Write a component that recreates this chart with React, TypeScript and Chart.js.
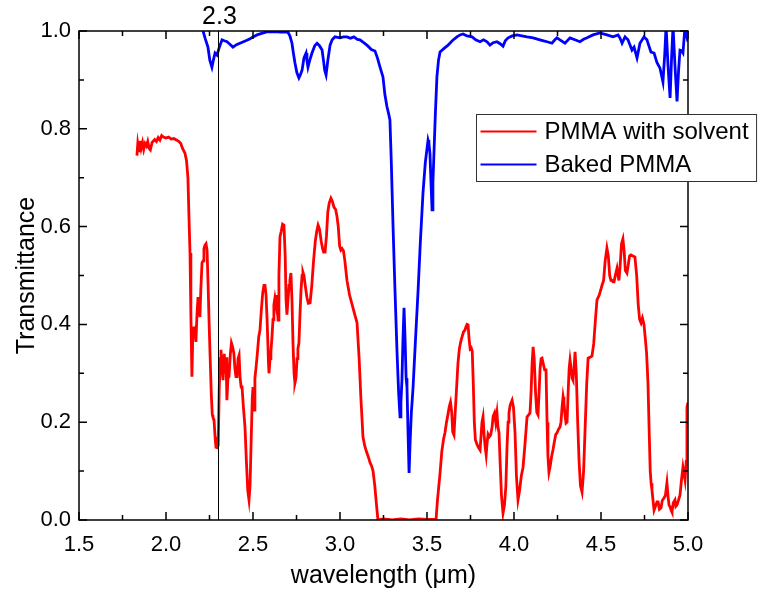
import React, { useEffect, useRef } from "react";
import { Chart, registerables } from "chart.js";

Chart.register(...registerables);

const seriesLabels = ["PMMA with solvent", "Baked PMMA"];
const seriesColors = ["#ff0000", "#0000ff"];
const xAxisTitle = "wavelength (μm)";
const yAxisTitle = "Transmittance";
const markerWavelength = 2.3;
const markerLabel = "2.3";

const redWavelength = [
  1.833, 1.838, 1.845, 1.85, 1.857, 1.865, 1.872, 1.88, 1.888, 1.895, 1.903, 1.91, 1.92, 1.935, 1.945, 1.955, 1.965, 1.975, 1.985, 2.0,
  2.015, 2.03, 2.045, 2.06, 2.075, 2.085, 2.095, 2.109, 2.118, 2.126, 2.132, 2.138, 2.143, 2.149, 2.155, 2.16, 2.166, 2.172, 2.178, 2.184,
  2.19, 2.195, 2.2, 2.207, 2.213, 2.218, 2.224, 2.23, 2.236, 2.242, 2.248, 2.253, 2.26, 2.266, 2.27, 2.276, 2.282, 2.287, 2.295, 2.3,
  2.306, 2.312, 2.316, 2.322, 2.328, 2.335, 2.34, 2.345, 2.35, 2.356, 2.362, 2.37, 2.376, 2.382, 2.39, 2.396, 2.402, 2.408, 2.414, 2.42,
  2.426, 2.432, 2.437, 2.445, 2.454, 2.462, 2.47, 2.477, 2.483, 2.49, 2.496, 2.5, 2.503, 2.506, 2.511, 2.517, 2.525, 2.533, 2.54, 2.548,
  2.556, 2.563, 2.569, 2.575, 2.582, 2.589, 2.592, 2.598, 2.603, 2.609, 2.615, 2.62, 2.626, 2.632, 2.638, 2.644, 2.649, 2.655, 2.662, 2.67,
  2.678, 2.685, 2.69, 2.695, 2.701, 2.707, 2.712, 2.718, 2.724, 2.73, 2.736, 2.741, 2.747, 2.753, 2.758, 2.764, 2.77, 2.776, 2.782, 2.787,
  2.793, 2.8, 2.81, 2.818, 2.828, 2.838, 2.848, 2.858, 2.866, 2.874, 2.882, 2.892, 2.9, 2.906, 2.914, 2.922, 2.93, 2.938, 2.948, 2.956,
  2.965, 2.975, 2.983, 2.99, 2.998, 3.005, 3.012, 3.02, 3.028, 3.04, 3.055, 3.07, 3.085, 3.098, 3.11, 3.12, 3.132, 3.142, 3.152, 3.162,
  3.172, 3.182, 3.19, 3.2, 3.21, 3.218, 3.25, 3.3, 3.35, 3.4, 3.45, 3.5, 3.552, 3.56, 3.575, 3.585, 3.595, 3.603, 3.612, 3.62,
  3.628, 3.635, 3.642, 3.648, 3.655, 3.662, 3.67, 3.678, 3.686, 3.694, 3.701, 3.71, 3.718, 3.724, 3.73, 3.736, 3.742, 3.748, 3.754, 3.76,
  3.766, 3.772, 3.778, 3.787, 3.796, 3.805, 3.816, 3.822, 3.828, 3.834, 3.84, 3.846, 3.851, 3.858, 3.866, 3.874, 3.88, 3.888, 3.895, 3.902,
  3.908, 3.914, 3.92, 3.928, 3.937, 3.945, 3.953, 3.96, 3.966, 3.971, 3.978, 3.989, 3.997, 4.006, 4.014, 4.023, 4.032, 4.042, 4.052, 4.062,
  4.075, 4.084, 4.092, 4.098, 4.104, 4.11, 4.116, 4.124, 4.131, 4.138, 4.144, 4.15, 4.156, 4.161, 4.168, 4.176, 4.184, 4.19, 4.195, 4.201,
  4.208, 4.216, 4.224, 4.232, 4.24, 4.247, 4.255, 4.264, 4.27, 4.276, 4.282, 4.287, 4.293, 4.299, 4.305, 4.311, 4.317, 4.322, 4.328, 4.334,
  4.339, 4.345, 4.351, 4.358, 4.366, 4.374, 4.382, 4.391, 4.4, 4.41, 4.418, 4.426, 4.437, 4.448, 4.458, 4.468, 4.477, 4.49, 4.506, 4.515,
  4.524, 4.534, 4.542, 4.55, 4.557, 4.563, 4.569, 4.575, 4.582, 4.592, 4.598, 4.603, 4.61, 4.618, 4.626, 4.633, 4.64, 4.649, 4.656, 4.664,
  4.672, 4.683, 4.695, 4.705, 4.714, 4.722, 4.73, 4.738, 4.747, 4.755, 4.762, 4.77, 4.777, 4.783, 4.788, 4.793, 4.799, 4.805, 4.815, 4.822,
  4.828, 4.836, 4.845, 4.852, 4.862, 4.87, 4.879, 4.885, 4.891, 4.897, 4.903, 4.908, 4.915, 4.925, 4.93, 4.937, 4.945, 4.954, 4.962, 4.971,
  4.977, 4.983, 4.99, 4.994, 5.0,
];
const redTransmittance = [
  0.745, 0.77, 0.755, 0.775, 0.76, 0.772, 0.758, 0.77, 0.765, 0.774, 0.76, 0.757, 0.772, 0.778, 0.774, 0.782, 0.777, 0.786, 0.783, 0.781,
  0.783, 0.779, 0.78, 0.777, 0.774, 0.77, 0.76, 0.75, 0.735, 0.7, 0.62, 0.546, 0.42, 0.293, 0.395, 0.385, 0.39, 0.364, 0.42, 0.456,
  0.44, 0.415, 0.47, 0.526, 0.53, 0.555, 0.562, 0.565, 0.552, 0.48, 0.4, 0.341, 0.26, 0.215, 0.21, 0.205, 0.17, 0.149, 0.148, 0.153,
  0.27, 0.33, 0.348, 0.31, 0.286, 0.34, 0.3, 0.333, 0.245, 0.29, 0.293, 0.34, 0.362, 0.355, 0.341, 0.31, 0.293, 0.293, 0.33, 0.337,
  0.29, 0.272, 0.272, 0.23, 0.19, 0.12, 0.06, 0.041, 0.07, 0.17, 0.25, 0.272, 0.24, 0.225, 0.29, 0.31, 0.34, 0.375, 0.388, 0.43,
  0.465, 0.48, 0.48, 0.46, 0.4, 0.32, 0.3, 0.33, 0.345, 0.374, 0.41, 0.44, 0.454, 0.44, 0.46, 0.409, 0.5, 0.579, 0.59, 0.605,
  0.603, 0.54, 0.45, 0.42, 0.45, 0.48, 0.49, 0.505, 0.45, 0.36, 0.3, 0.28, 0.29, 0.33, 0.35, 0.362, 0.42, 0.47, 0.5, 0.507,
  0.5, 0.48, 0.455, 0.443, 0.444, 0.48, 0.53, 0.57, 0.59, 0.603, 0.595, 0.57, 0.555, 0.548, 0.548, 0.58, 0.63, 0.648, 0.658, 0.652,
  0.64, 0.635, 0.62, 0.6, 0.56, 0.552, 0.555, 0.55, 0.53, 0.49, 0.46, 0.44, 0.42, 0.403, 0.33, 0.25, 0.17, 0.152, 0.14, 0.13,
  0.118, 0.11, 0.1, 0.07, 0.03, 0.0, 0.002, 0.0, 0.002, 0.0, 0.002, 0.001, 0.001, 0.04, 0.096, 0.14, 0.165, 0.178, 0.2, 0.215,
  0.232, 0.241, 0.22, 0.18, 0.174, 0.22, 0.27, 0.321, 0.35, 0.365, 0.374, 0.385, 0.388, 0.395, 0.4, 0.399, 0.37, 0.35, 0.352, 0.345,
  0.28, 0.2, 0.164, 0.155, 0.148, 0.143, 0.2, 0.211, 0.175, 0.15, 0.133, 0.16, 0.175, 0.17, 0.174, 0.19, 0.212, 0.219, 0.2, 0.219,
  0.19, 0.178, 0.12, 0.05, 0.014, 0.03, 0.068, 0.15, 0.2, 0.219, 0.235, 0.245, 0.23, 0.178, 0.09, 0.041, 0.06, 0.09, 0.108, 0.15,
  0.211, 0.215, 0.219, 0.26, 0.32, 0.354, 0.33, 0.26, 0.22, 0.215, 0.26, 0.31, 0.33, 0.331, 0.32, 0.307, 0.307, 0.2, 0.13, 0.098,
  0.11, 0.13, 0.143, 0.16, 0.175, 0.178, 0.185, 0.19, 0.2, 0.23, 0.252, 0.24, 0.215, 0.198, 0.2, 0.26, 0.31, 0.327, 0.31, 0.29,
  0.286, 0.31, 0.344, 0.3, 0.2, 0.12, 0.07, 0.057, 0.1, 0.2, 0.28, 0.331, 0.333, 0.335, 0.36, 0.41, 0.45, 0.46, 0.48, 0.49,
  0.53, 0.556, 0.54, 0.5, 0.49, 0.49, 0.487, 0.487, 0.5, 0.515, 0.5, 0.49, 0.52, 0.565, 0.575, 0.55, 0.51, 0.505, 0.52, 0.54,
  0.542, 0.54, 0.538, 0.5, 0.44, 0.41, 0.403, 0.413, 0.4, 0.37, 0.341, 0.28, 0.18, 0.1, 0.075, 0.061, 0.04, 0.02, 0.03, 0.037,
  0.037, 0.022, 0.025, 0.04, 0.045, 0.05, 0.076, 0.05, 0.03, 0.027, 0.02, 0.016, 0.035, 0.041, 0.028, 0.031, 0.04, 0.051, 0.08, 0.108,
  0.095, 0.082, 0.12, 0.231, 0.24,
];

const blueWavelength = [
  2.213, 2.225, 2.241, 2.252, 2.264, 2.272, 2.282, 2.293, 2.305, 2.322, 2.335, 2.351, 2.37, 2.385, 2.405, 2.425, 2.445, 2.465, 2.483, 2.5,
  2.523, 2.55, 2.58, 2.62, 2.66, 2.7, 2.712, 2.724, 2.732, 2.741, 2.752, 2.764, 2.772, 2.782, 2.793, 2.805, 2.81, 2.816, 2.826, 2.839,
  2.855, 2.868, 2.882, 2.897, 2.905, 2.912, 2.92, 2.93, 2.943, 2.955, 2.971, 3.0, 3.02, 3.04, 3.06, 3.08, 3.1, 3.115, 3.14, 3.161,
  3.18, 3.201, 3.215, 3.23, 3.247, 3.258, 3.27, 3.28, 3.287, 3.295, 3.305, 3.316, 3.328, 3.337, 3.345, 3.35, 3.356, 3.362, 3.368, 3.374,
  3.38, 3.385, 3.391, 3.397, 3.403, 3.41, 3.414, 3.42, 3.434, 3.448, 3.462, 3.477, 3.49, 3.506, 3.511, 3.517, 3.523, 3.529, 3.534, 3.54,
  3.548, 3.557, 3.566, 3.575, 3.6, 3.621, 3.645, 3.672, 3.69, 3.707, 3.73, 3.759, 3.78, 3.805, 3.825, 3.845, 3.862, 3.88, 3.902, 3.92,
  3.937, 3.95, 3.966, 3.99, 4.017, 4.045, 4.075, 4.11, 4.149, 4.17, 4.19, 4.218, 4.235, 4.247, 4.264, 4.293, 4.322, 4.35, 4.379, 4.4,
  4.42, 4.454, 4.494, 4.534, 4.569, 4.598, 4.61, 4.621, 4.638, 4.655, 4.678, 4.69, 4.707, 4.724, 4.747, 4.764, 4.787, 4.805, 4.822, 4.839,
  4.856, 4.866, 4.874, 4.885, 4.897, 4.905, 4.914, 4.925, 4.937, 4.946, 4.954, 4.962, 4.971, 4.983, 4.992, 5.0,
];
const blueTransmittance = [
  1.0, 0.985, 0.967, 0.94, 0.926, 0.94, 0.955, 0.951, 0.965, 0.982, 0.98, 0.978, 0.972, 0.967, 0.972, 0.975, 0.978, 0.981, 0.984, 0.988,
  0.992, 0.995, 0.998, 0.999, 0.998, 0.998, 0.99, 0.975, 0.955, 0.935, 0.915, 0.904, 0.91, 0.92, 0.945, 0.955, 0.94, 0.926, 0.94, 0.955,
  0.97, 0.975, 0.97, 0.961, 0.94, 0.92, 0.91, 0.94, 0.971, 0.982, 0.988, 0.986, 0.988, 0.988, 0.985, 0.988, 0.983, 0.982, 0.975, 0.969,
  0.962, 0.959, 0.945, 0.926, 0.906, 0.87, 0.845, 0.83, 0.818, 0.73, 0.599, 0.47, 0.341, 0.26, 0.211, 0.24, 0.286, 0.37, 0.434, 0.37,
  0.29, 0.272, 0.18, 0.096, 0.16, 0.22, 0.239, 0.272, 0.37, 0.464, 0.57, 0.669, 0.73, 0.777, 0.77, 0.75, 0.69, 0.634, 0.69, 0.75,
  0.83, 0.906, 0.94, 0.957, 0.965, 0.971, 0.98, 0.988, 0.992, 0.994, 0.99, 0.988, 0.982, 0.978, 0.982, 0.978, 0.971, 0.976, 0.978, 0.974,
  0.969, 0.98, 0.986, 0.99, 0.992, 0.99, 0.988, 0.986, 0.982, 0.98, 0.978, 0.975, 0.982, 0.986, 0.982, 0.975, 0.986, 0.982, 0.978, 0.983,
  0.986, 0.992, 0.996, 0.992, 0.988, 0.992, 0.985, 0.975, 0.988, 0.982, 0.961, 0.967, 0.945, 0.975, 0.988, 0.982, 0.957, 0.955, 0.935, 0.924,
  0.896, 0.95, 1.01, 0.93, 0.863, 0.94, 1.01, 0.93, 0.856, 0.92, 0.961, 0.96, 0.955, 1.01, 0.99, 0.978,
];

const xMin = 1.5;
const xMax = 5.0;
const xStep = 0.5;
const yMin = 0;
const yMax = 1.0;
const yStep = 0.2;

const FONT = "'Liberation Sans', Arial, Helvetica, sans-serif";

function toPoints(xs: number[], ys: number[]) {
  return xs.map((x, i) => ({ x, y: ys[i] }));
}

const framePlugin = {
  id: "frameTicks",
  afterDatasetsDraw(chart: any) {
    const { ctx, chartArea: a } = chart;
    const xs = chart.scales.x;
    const ys = chart.scales.y;
    ctx.save();
    const mx = Math.round(xs.getPixelForValue(markerWavelength)) + 0.5;
    ctx.strokeStyle = "#000";
    ctx.lineWidth = 1;
    ctx.beginPath();
    ctx.moveTo(mx, a.top);
    ctx.lineTo(mx, a.bottom);
    ctx.stroke();
    ctx.fillStyle = "#000";
    ctx.font = `25px ${FONT}`;
    ctx.textAlign = "center";
    ctx.textBaseline = "middle";
    ctx.fillText(markerLabel, mx + 1, a.top - 14);

    ctx.lineWidth = 1.5;
    ctx.strokeStyle = "#000";
    ctx.beginPath();
    ctx.moveTo(a.left, a.top);
    ctx.lineTo(a.right, a.top);
    ctx.lineTo(a.right, a.bottom);
    ctx.lineTo(a.left, a.bottom);
    ctx.closePath();
    ctx.stroke();

    const xt = xs.ticks.map((t: any) => t.value);
    const yt = ys.ticks.map((t: any) => t.value);
    const drawX = (v: number, len: number) => {
      const p = xs.getPixelForValue(v);
      ctx.beginPath();
      ctx.moveTo(p, a.bottom);
      ctx.lineTo(p, a.bottom - len);
      ctx.moveTo(p, a.top);
      ctx.lineTo(p, a.top + len);
      ctx.stroke();
    };
    const drawY = (v: number, len: number) => {
      const p = ys.getPixelForValue(v);
      ctx.beginPath();
      ctx.moveTo(a.left, p);
      ctx.lineTo(a.left + len, p);
      ctx.moveTo(a.right, p);
      ctx.lineTo(a.right - len, p);
      ctx.stroke();
    };
    xt.forEach((v: number, i: number) => {
      drawX(v, 8);
      if (i < xt.length - 1) drawX((v + xt[i + 1]) / 2, 5);
    });
    yt.forEach((v: number, i: number) => {
      drawY(v, 8);
      if (i < yt.length - 1) drawY((v + yt[i + 1]) / 2, 5);
    });
    ctx.restore();
  },
  afterDraw(chart: any) {
    const { ctx } = chart;
    const xs = chart.scales.x;
    const ys = chart.scales.y;
    const left = Math.round(xs.getPixelForValue(3.78)) + 0.5;
    const top = Math.round(ys.getPixelForValue(0.83)) + 0.5;
    ctx.save();
    ctx.font = `24px ${FONT}`;
    const textW = Math.max(...seriesLabels.map((l) => ctx.measureText(l).width));
    const w = 68 + textW + 8;
    const h = 67;
    ctx.fillStyle = "#fff";
    ctx.fillRect(left, top, w, h);
    ctx.strokeStyle = "#333";
    ctx.lineWidth = 1;
    ctx.strokeRect(left, top, w, h);
    ctx.textBaseline = "middle";
    ctx.textAlign = "left";
    seriesLabels.forEach((lab, i) => {
      const cy = top + 17 + i * 33;
      ctx.strokeStyle = seriesColors[i];
      ctx.lineWidth = 2;
      ctx.beginPath();
      ctx.moveTo(left + 4, cy);
      ctx.lineTo(left + 60, cy);
      ctx.stroke();
      ctx.fillStyle = "#000";
      ctx.fillText(lab, left + 68, cy + 1);
    });
    ctx.restore();
  },
};

export default function App() {
  const ref = useRef<HTMLCanvasElement | null>(null);
  useEffect(() => {
    if (!ref.current) return;
    const chart = new Chart(ref.current, {
      type: "line",
      data: {
        datasets: [
          {
            label: seriesLabels[0],
            data: toPoints(redWavelength, redTransmittance),
            borderColor: seriesColors[0],
            borderWidth: 2.8,
            pointRadius: 0,
            tension: 0,
            fill: false,
          },
          {
            label: seriesLabels[1],
            data: toPoints(blueWavelength, blueTransmittance),
            borderColor: seriesColors[1],
            borderWidth: 2.8,
            pointRadius: 0,
            tension: 0,
            fill: false,
          },
        ],
      },
      plugins: [framePlugin],
      options: {
        animation: false,
        responsive: true,
        maintainAspectRatio: false,
        layout: { padding: { top: 31, right: 77, left: 0, bottom: 0 } },
        plugins: { legend: { display: false }, tooltip: { enabled: false } },
        scales: {
          x: {
            type: "linear",
            min: xMin,
            max: xMax,
            grid: { display: false, drawTicks: false },
            border: { display: false },
            ticks: {
              stepSize: xStep,
              color: "#000",
              padding: 12,
              font: { family: FONT, size: 22 },
              callback: (v: any) => Number(v).toFixed(1),
            },
            title: {
              display: true,
              text: xAxisTitle,
              color: "#000",
              font: { family: FONT, size: 25 },
              padding: { top: 0, bottom: 6 },
            },
            afterFit: (s: any) => {
              s.height = 77;
            },
          },
          y: {
            type: "linear",
            min: yMin,
            max: yMax,
            grid: { display: false, drawTicks: false },
            border: { display: false },
            ticks: {
              stepSize: yStep,
              color: "#000",
              padding: 8,
              font: { family: FONT, size: 22 },
              callback: (v: any) => Number(v).toFixed(1),
            },
            title: {
              display: true,
              text: yAxisTitle,
              color: "#000",
              font: { family: FONT, size: 25 },
              padding: { top: 12, bottom: 0 },
            },
            afterFit: (s: any) => {
              s.width = 79;
            },
          },
        },
      },
    });
    return () => chart.destroy();
  }, []);
  return (
    <div style={{ position: "absolute", left: 0, top: 0, width: 765, height: 597, background: "#fff" }}>
      <canvas ref={ref} />
    </div>
  );
}
